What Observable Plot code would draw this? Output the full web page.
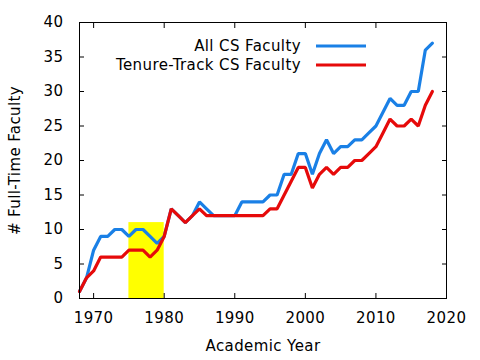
<!DOCTYPE html>
<html>
<head>
<meta charset="utf-8">
<script src="https://cdn.jsdelivr.net/npm/d3@7"></script>
<script src="https://cdn.jsdelivr.net/npm/@observablehq/plot@0.6"></script>
<style>
  html, body { margin: 0; padding: 0; background: #fff; }
  svg text { letter-spacing: 0.4px; }
</style>
</head>
<body>
<div id="chart"></div>
<script>
const years = d3.range(1968, 2019);
const allCS = [1, 3, 7, 9, 9, 10, 10, 9, 10, 10, 9, 8, 9, 13, 12, 11, 12, 14, 13, 12,
  12, 12, 12, 14, 14, 14, 14, 15, 15, 18, 18, 21, 21, 18, 21, 23, 21, 22, 22, 23,
  23, 24, 25, 27, 29, 28, 28, 30, 30, 36, 37];
const tenureTrack = [1, 3, 4, 6, 6, 6, 6, 7, 7, 7, 6, 7, 9, 13, 12, 11, 12, 13, 12, 12,
  12, 12, 12, 12, 12, 12, 12, 13, 13, 15, 17, 19, 19, 16, 18, 19, 18, 19, 19, 20,
  20, 21, 22, 24, 26, 25, 25, 26, 25, 28, 30];
const seriesNames = ["All CS Faculty", "Tenure-Track CS Faculty"];
const seriesColors = ["#1a80e6", "#e60a0a"];
const highlight = [{start: 1975, end: 1980, top: 11}];
const xTicks = [1970, 1980, 1990, 2000, 2010, 2020];
const yTicks = [0, 5, 10, 15, 20, 25, 30, 35, 40];
const xLabel = "Academic Year";
const yLabel = "# Full-Time Faculty";

const allData = years.map((y, i) => ({year: y, value: allCS[i]}));
const ttData = years.map((y, i) => ({year: y, value: tenureTrack[i]}));

const chart = Plot.plot({
  width: 480,
  height: 360,
  marginLeft: 79,
  marginRight: 34,
  marginTop: 22,
  marginBottom: 62,
  style: {fontFamily: "DejaVu Sans", fontSize: "15px", color: "#000", background: "#fff"},
  x: {domain: [1968, 2020]},
  y: {domain: [0, 40]},
  marks: [
    Plot.rect(highlight, {x1: "start", x2: "end", y1: 0, y2: "top", fill: "#ffff00"}),
    Plot.line(allData, {x: "year", y: "value", stroke: seriesColors[0], strokeWidth: 3.2, strokeLinejoin: "miter"}),
    Plot.line(ttData, {x: "year", y: "value", stroke: seriesColors[1], strokeWidth: 3.2, strokeLinejoin: "miter"}),
    Plot.frame({stroke: "#000", strokeWidth: 1}),
    Plot.axisX({anchor: "bottom", ticks: xTicks, tickFormat: d => String(d), tickSize: -5, tickPadding: 19, label: null}),
    Plot.axisX({anchor: "top", ticks: xTicks, tickFormat: () => "", tickSize: -5, label: null}),
    Plot.axisY({anchor: "left", ticks: yTicks, tickSize: -5, tickPadding: 21, label: null}),
    Plot.axisY({anchor: "right", ticks: yTicks, tickFormat: () => "", tickSize: -5, label: null}),
    Plot.text([xLabel], {frameAnchor: "bottom", dy: 48, text: d => d, textAnchor: "middle", lineAnchor: "middle", fontSize: 15}),
    Plot.text([yLabel], {frameAnchor: "left", dx: -64, rotate: -90, text: d => d, textAnchor: "middle", lineAnchor: "middle", fontSize: 15})
  ]
});
document.getElementById("chart").appendChild(chart);

// Legend (top-right, inside the frame)
const svg = d3.select(chart);
const leg = svg.append("g").attr("font-family", "DejaVu Sans").attr("font-size", 15);
seriesNames.forEach((name, i) => {
  const yy = 46 + i * 19;
  leg.append("text").attr("x", 301).attr("y", yy).attr("dy", "0.35em")
    .attr("text-anchor", "end").attr("fill", "#000").text(name);
  leg.append("line").attr("x1", 316).attr("x2", 366).attr("y1", yy).attr("y2", yy)
    .attr("stroke", seriesColors[i]).attr("stroke-width", 3.2);
});
</script>
</body>
</html>
